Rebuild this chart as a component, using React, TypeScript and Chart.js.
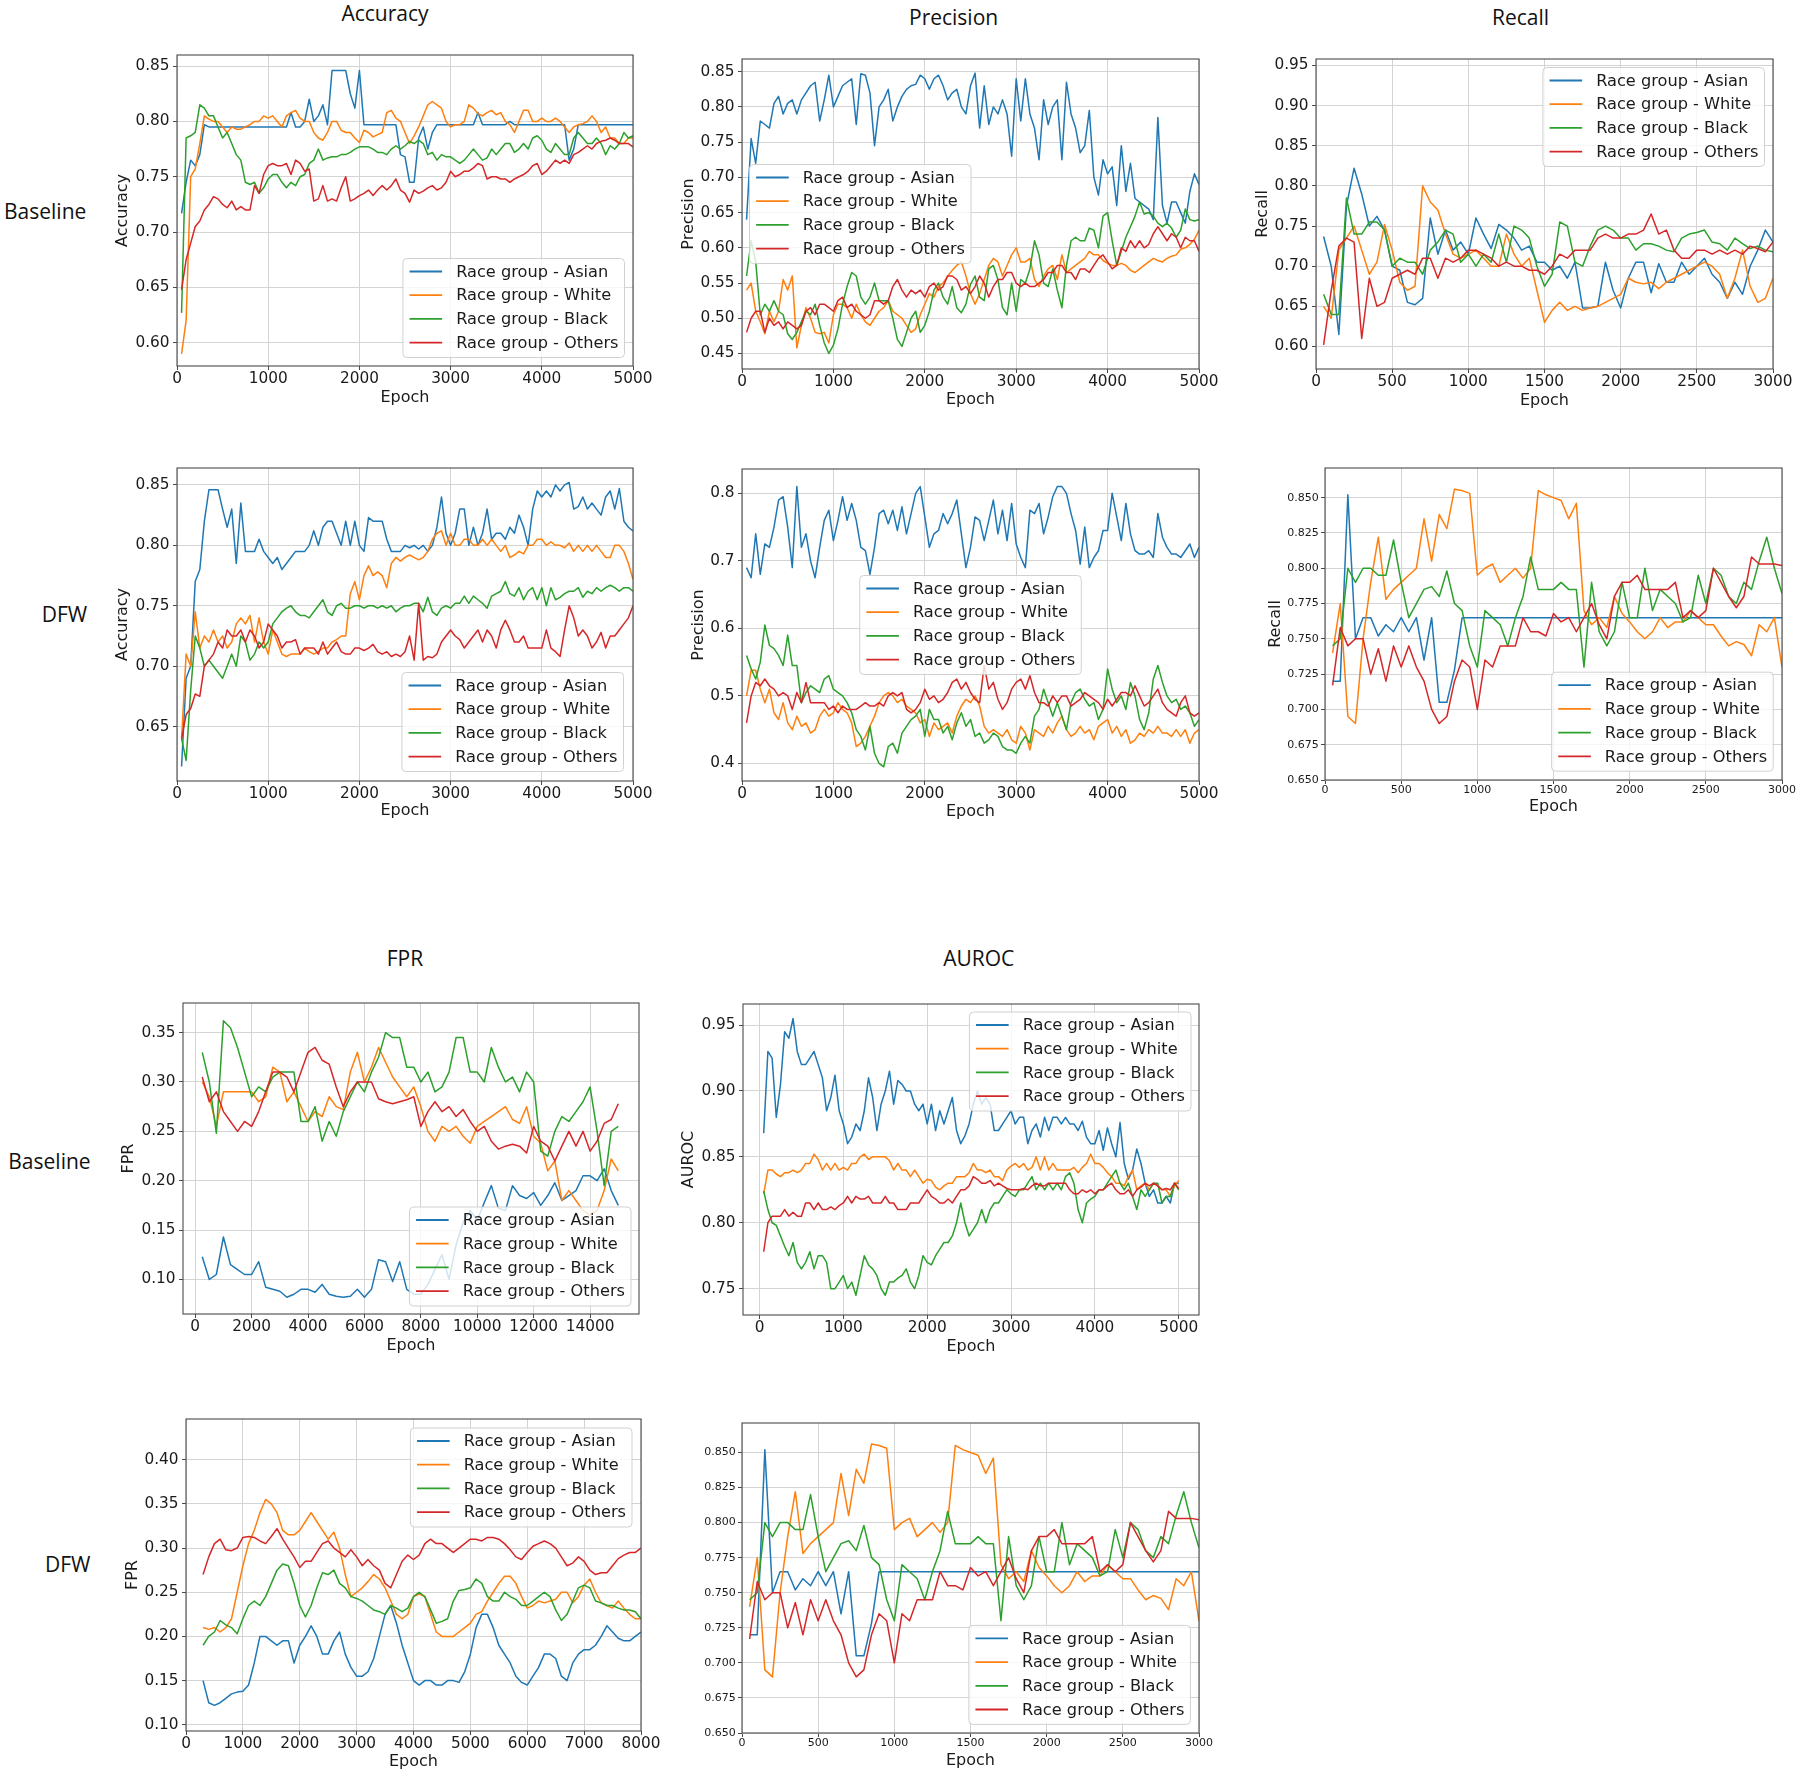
import React, { useEffect, useRef } from 'react';
import { Chart, registerables } from 'chart.js';

Chart.register(...registerables);

// ---------------- categories / series names ----------------
const SERIES_NAMES = ['Race group - Asian', 'Race group - White', 'Race group - Black', 'Race group - Others'];
const SERIES_COLORS = ['#1f77b4', '#ff7f0e', '#2ca02c', '#d62728'];
const COLUMN_TITLES = ['Accuracy', 'Precision', 'Recall', 'FPR', 'AUROC'];
const ROW_LABELS = ['Baseline', 'DFW', 'Baseline', 'DFW'];
const X_TITLE = 'Epoch';

// ---------------- tick values ----------------
const X_TICKS_5000 = [0, 1000, 2000, 3000, 4000, 5000];
const X_TICKS_3000 = [0, 500, 1000, 1500, 2000, 2500, 3000];
const X_TICKS_15000 = [0, 2000, 4000, 6000, 8000, 10000, 12000, 14000];
const X_TICKS_8000 = [0, 1000, 2000, 3000, 4000, 5000, 6000, 7000, 8000];
const Y_TICKS_ACC_BASE = [0.60, 0.65, 0.70, 0.75, 0.80, 0.85];
const Y_TICKS_PREC_BASE = [0.45, 0.50, 0.55, 0.60, 0.65, 0.70, 0.75, 0.80, 0.85];
const Y_TICKS_REC_BASE = [0.60, 0.65, 0.70, 0.75, 0.80, 0.85, 0.90, 0.95];
const Y_TICKS_ACC_DFW = [0.65, 0.70, 0.75, 0.80, 0.85];
const Y_TICKS_PREC_DFW = [0.4, 0.5, 0.6, 0.7, 0.8];
const Y_TICKS_REC_DFW = [0.650, 0.675, 0.700, 0.725, 0.750, 0.775, 0.800, 0.825, 0.850];
const Y_TICKS_FPR_BASE = [0.10, 0.15, 0.20, 0.25, 0.30, 0.35];
const Y_TICKS_AUROC_BASE = [0.75, 0.80, 0.85, 0.90, 0.95];
const Y_TICKS_FPR_DFW = [0.10, 0.15, 0.20, 0.25, 0.30, 0.35, 0.40];

// ---------------- epochs (x values) ----------------
const EPOCHS_5000 = [
  50, 100, 150, 200, 250, 300, 350, 400, 450, 500,
  550, 600, 650, 700, 750, 800, 850, 900, 950, 1000,
  1050, 1100, 1150, 1200, 1250, 1300, 1350, 1400, 1450, 1500,
  1550, 1600, 1650, 1700, 1750, 1800, 1850, 1900, 1950, 2000,
  2050, 2100, 2150, 2200, 2250, 2300, 2350, 2400, 2450, 2500,
  2550, 2600, 2650, 2700, 2750, 2800, 2850, 2900, 2950, 3000,
  3050, 3100, 3150, 3200, 3250, 3300, 3350, 3400, 3450, 3500,
  3550, 3600, 3650, 3700, 3750, 3800, 3850, 3900, 3950, 4000,
  4050, 4100, 4150, 4200, 4250, 4300, 4350, 4400, 4450, 4500,
  4550, 4600, 4650, 4700, 4750, 4800, 4850, 4900, 4950, 5000,
];
const EPOCHS_3000 = [
  50, 100, 150, 200, 250, 300, 350, 400, 450, 500,
  550, 600, 650, 700, 750, 800, 850, 900, 950, 1000,
  1050, 1100, 1150, 1200, 1250, 1300, 1350, 1400, 1450, 1500,
  1550, 1600, 1650, 1700, 1750, 1800, 1850, 1900, 1950, 2000,
  2050, 2100, 2150, 2200, 2250, 2300, 2350, 2400, 2450, 2500,
  2550, 2600, 2650, 2700, 2750, 2800, 2850, 2900, 2950, 3000,
];
const EPOCHS_FPR_BASE = [
  250, 500, 750, 1000, 1250, 1500, 1750, 2000, 2250, 2500,
  2750, 3000, 3250, 3500, 3750, 4000, 4250, 4500, 4750, 5000,
  5250, 5500, 5750, 6000, 6250, 6500, 6750, 7000, 7250, 7500,
  7750, 8000, 8250, 8500, 8750, 9000, 9250, 9500, 9750, 10000,
  10250, 10500, 10750, 11000, 11250, 11500, 11750, 12000, 12250, 12500,
  12750, 13000, 13250, 13500, 13750, 14000, 14250, 14500, 14750, 15000,
];
const EPOCHS_FPR_DFW = [
  300, 400, 500, 600, 700, 800, 900, 1000, 1100, 1200,
  1300, 1400, 1500, 1600, 1700, 1800, 1900, 2000, 2100, 2200,
  2300, 2400, 2500, 2600, 2700, 2800, 2900, 3000, 3100, 3200,
  3300, 3400, 3500, 3600, 3700, 3800, 3900, 4000, 4100, 4200,
  4300, 4400, 4500, 4600, 4700, 4800, 4900, 5000, 5100, 5200,
  5300, 5400, 5500, 5600, 5700, 5800, 5900, 6000, 6100, 6200,
  6300, 6400, 6500, 6600, 6700, 6800, 6900, 7000, 7100, 7200,
  7300, 7400, 7500, 7600, 7700, 7800, 7900, 8000,
];

// ---------------- Accuracy - Baseline ----------------
const ACC_BASE_ASIAN = [
  .717, .745, .765, .760, .770, .797, .795, .795, .795, .795,
  .795, .795, .795, .795, .795, .795, .795, .795, .795, .795,
  .795, .795, .795, .795, .808, .795, .795, .800, .820, .800,
  .805, .815, .797, .846, .846, .846, .846, .825, .812, .846,
  .797, .797, .797, .797, .797, .797, .797, .797, .770, .768,
  .745, .745, .785, .795, .775, .790, .797, .797, .797, .797,
  .797, .797, .797, .797, .797, .808, .797, .797, .797, .797,
  .797, .797, .800, .797, .797, .797, .797, .797, .797, .797,
  .797, .797, .797, .797, .797, .765, .775, .797, .797, .797,
  .797, .797, .797, .797, .797, .797, .797, .797, .797, .797,
];
const ACC_BASE_WHITE = [
  .590, .620, .750, .757, .780, .805, .802, .800, .800, .795,
  .790, .795, .793, .793, .795, .797, .800, .800, .805, .803,
  .805, .800, .795, .805, .808, .810, .803, .800, .800, .790,
  .785, .783, .790, .800, .800, .792, .790, .790, .785, .781,
  .792, .790, .786, .788, .790, .808, .810, .803, .800, .790,
  .780, .787, .795, .805, .815, .818, .815, .812, .800, .795,
  .797, .797, .800, .815, .812, .807, .805, .808, .810, .806,
  .808, .800, .797, .790, .800, .810, .810, .800, .800, .803,
  .800, .800, .803, .800, .795, .790, .795, .797, .798, .800,
  .805, .800, .790, .795, .785, .785, .780, .780, .785, .785,
];
const ACC_BASE_BLACK = [
  .627, .785, .787, .790, .815, .812, .805, .805, .795, .785,
  .790, .780, .770, .765, .745, .743, .745, .735, .740, .748,
  .752, .752, .745, .740, .745, .742, .750, .752, .762, .765,
  .775, .765, .767, .768, .768, .770, .770, .772, .775, .777,
  .777, .777, .775, .772, .772, .770, .775, .778, .775, .778,
  .782, .780, .783, .780, .770, .772, .765, .770, .768, .768,
  .765, .762, .765, .770, .775, .770, .765, .767, .775, .770,
  .775, .780, .780, .772, .775, .780, .775, .785, .787, .783,
  .775, .772, .780, .775, .770, .770, .785, .790, .785, .780,
  .780, .785, .780, .770, .778, .775, .780, .790, .785, .787,
];
const ACC_BASE_OTHERS = [
  .648, .675, .690, .705, .710, .720, .725, .732, .730, .725,
  .722, .728, .720, .723, .720, .720, .742, .735, .752, .760,
  .762, .760, .760, .762, .752, .765, .762, .755, .757, .728,
  .730, .742, .728, .730, .728, .740, .750, .728, .730, .733,
  .735, .738, .733, .738, .742, .738, .742, .748, .738, .735,
  .727, .738, .735, .737, .740, .742, .738, .740, .745, .755,
  .750, .752, .755, .755, .758, .762, .760, .748, .750, .750,
  .748, .748, .745, .748, .750, .752, .755, .760, .762, .752,
  .755, .760, .765, .762, .765, .762, .770, .772, .775, .778,
  .775, .780, .782, .783, .785, .783, .780, .780, .780, .777,
];

// ---------------- Precision - Baseline ----------------
const PREC_BASE_ASIAN = [
  .640, .755, .720, .780, .775, .770, .805, .815, .790, .805,
  .810, .790, .810, .820, .830, .835, .780, .810, .845, .800,
  .815, .830, .835, .840, .775, .847, .845, .820, .745, .800,
  .810, .825, .780, .800, .815, .825, .830, .832, .845, .840,
  .825, .840, .845, .830, .810, .820, .825, .800, .790, .830,
  .848, .770, .830, .775, .800, .790, .810, .790, .730, .840,
  .780, .840, .790, .770, .725, .810, .775, .800, .810, .725,
  .835, .790, .770, .735, .745, .795, .700, .675, .725, .705,
  .715, .660, .745, .680, .720, .670, .665, .660, .655, .640,
  .785, .660, .635, .665, .665, .650, .635, .680, .705, .690,
];
const PREC_BASE_WHITE = [
  .540, .550, .510, .495, .478, .510, .495, .510, .555, .540,
  .560, .458, .490, .515, .500, .480, .478, .480, .465, .505,
  .520, .520, .515, .500, .520, .505, .495, .490, .500, .510,
  .515, .525, .510, .505, .500, .490, .480, .485, .505, .520,
  .535, .530, .545, .550, .560, .568, .575, .580, .560, .535,
  .520, .535, .555, .575, .585, .580, .560, .575, .590, .600,
  .580, .580, .585, .555, .545, .560, .570, .575, .555, .590,
  .565, .570, .575, .580, .585, .595, .590, .590, .582, .578,
  .575, .575, .578, .575, .568, .565, .570, .575, .580, .585,
  .582, .580, .585, .588, .590, .598, .600, .605, .612, .625,
];
const PREC_BASE_BLACK = [
  .560, .610, .580, .505, .520, .510, .525, .510, .505, .478,
  .470, .480, .495, .510, .505, .520, .490, .465, .450, .462,
  .485, .520, .545, .565, .560, .530, .520, .530, .550, .525,
  .525, .525, .500, .470, .460, .480, .500, .510, .480, .490,
  .510, .540, .550, .530, .520, .545, .515, .508, .520, .548,
  .560, .530, .525, .570, .575, .555, .515, .505, .550, .510,
  .555, .550, .570, .610, .590, .550, .545, .570, .540, .515,
  .575, .610, .615, .610, .610, .628, .625, .600, .645, .650,
  .610, .575, .595, .615, .630, .645, .665, .648, .650, .645,
  .635, .630, .635, .628, .615, .625, .655, .640, .638, .640,
];
const PREC_BASE_OTHERS = [
  .480, .500, .510, .510, .480, .500, .490, .495, .485, .495,
  .490, .485, .490, .510, .515, .505, .520, .520, .515, .510,
  .525, .530, .515, .520, .510, .505, .500, .505, .525, .525,
  .520, .525, .545, .555, .540, .530, .540, .535, .540, .530,
  .545, .550, .540, .545, .560, .560, .555, .540, .545, .535,
  .545, .560, .550, .530, .545, .555, .555, .565, .565, .550,
  .545, .550, .545, .545, .550, .555, .565, .565, .575, .575,
  .565, .565, .555, .570, .570, .565, .575, .585, .590, .580,
  .570, .575, .600, .595, .610, .600, .610, .600, .605, .620,
  .630, .620, .610, .620, .615, .600, .615, .610, .610, .595,
];

// ---------------- Recall - Baseline ----------------
const REC_BASE_ASIAN = [
  .737, .700, .615, .775, .822, .790, .750, .762, .745, .700,
  .695, .655, .652, .660, .760, .715, .745, .720, .730, .715,
  .760, .740, .722, .752, .745, .735, .720, .725, .705, .705,
  .695, .700, .685, .705, .648, .648, .650, .705, .670, .648,
  .685, .705, .705, .667, .703, .680, .680, .705, .690, .700,
  .710, .690, .680, .660, .680, .665, .700, .720, .745, .730,
];
const REC_BASE_WHITE = [
  .650, .635, .720, .735, .750, .720, .690, .705, .752, .720,
  .680, .670, .675, .800, .780, .770, .740, .715, .710, .715,
  .720, .710, .700, .700, .740, .715, .700, .710, .670, .630,
  .645, .655, .645, .650, .645, .648, .650, .655, .660, .665,
  .685, .680, .678, .680, .672, .680, .685, .690, .695, .700,
  .705, .700, .690, .660, .685, .720, .675, .655, .660, .685,
];
const REC_BASE_BLACK = [
  .665, .640, .640, .785, .740, .740, .755, .755, .745, .700,
  .710, .705, .705, .690, .720, .730, .745, .740, .705, .715,
  .700, .715, .705, .740, .705, .750, .745, .735, .700, .675,
  .690, .755, .750, .705, .700, .725, .745, .750, .745, .735,
  .735, .720, .728, .728, .725, .720, .718, .735, .740, .742,
  .745, .730, .728, .720, .735, .728, .722, .725, .720, .718,
];
const REC_BASE_OTHERS = [
  .602, .670, .725, .735, .730, .610, .685, .650, .655, .685,
  .690, .695, .690, .710, .710, .685, .710, .705, .710, .720,
  .720, .715, .710, .700, .705, .700, .700, .695, .695, .690,
  .700, .715, .710, .720, .720, .720, .735, .740, .735, .735,
  .740, .740, .745, .765, .740, .745, .720, .710, .710, .720,
  .720, .715, .720, .715, .720, .715, .725, .722, .718, .730,
];

// ---------------- Accuracy - DFW ----------------
const ACC_DFW_ASIAN = [
  .617, .690, .700, .770, .780, .820, .846, .846, .846, .830,
  .815, .830, .785, .835, .795, .795, .795, .805, .795, .790,
  .785, .790, .780, .785, .790, .795, .795, .795, .800, .812,
  .800, .815, .820, .820, .810, .800, .820, .800, .820, .800,
  .795, .823, .820, .820, .820, .805, .795, .795, .795, .800,
  .798, .800, .797, .800, .795, .800, .815, .840, .810, .800,
  .810, .830, .830, .800, .815, .800, .810, .830, .805, .810,
  .810, .805, .815, .810, .825, .815, .800, .830, .845, .840,
  .845, .840, .850, .845, .850, .852, .830, .832, .840, .830,
  .835, .830, .825, .840, .845, .830, .847, .820, .815, .812,
];
const ACC_DFW_WHITE = [
  .640, .710, .700, .745, .715, .725, .720, .730, .720, .725,
  .715, .720, .735, .740, .735, .742, .720, .740, .720, .710,
  .730, .720, .710, .708, .710, .710, .710, .715, .712, .710,
  .712, .715, .715, .720, .722, .725, .725, .760, .770, .755,
  .775, .783, .775, .778, .775, .765, .785, .790, .787, .790,
  .792, .790, .788, .790, .795, .805, .810, .812, .800, .810,
  .800, .800, .805, .805, .800, .800, .805, .800, .805, .800,
  .795, .800, .790, .792, .795, .793, .800, .800, .805, .805,
  .800, .803, .800, .800, .798, .802, .795, .800, .795, .800,
  .795, .800, .795, .790, .790, .800, .800, .795, .785, .772,
];
const ACC_DFW_BLACK = [
  .640, .622, .680, .725, .715, .700, .705, .700, .695, .690,
  .700, .710, .700, .725, .720, .705, .710, .720, .715, .720,
  .735, .740, .745, .748, .750, .745, .742, .742, .740, .745,
  .750, .755, .745, .742, .750, .752, .748, .748, .750, .750,
  .748, .750, .750, .748, .750, .748, .750, .745, .748, .750,
  .750, .752, .752, .745, .757, .745, .742, .748, .750, .748,
  .752, .752, .758, .752, .758, .755, .752, .748, .758, .760,
  .762, .770, .760, .758, .765, .755, .762, .765, .755, .765,
  .750, .765, .755, .757, .760, .762, .762, .765, .757, .762,
  .760, .765, .762, .765, .767, .765, .762, .765, .765, .762,
];
const ACC_DFW_OTHERS = [
  .640, .660, .665, .677, .675, .700, .705, .710, .720, .715,
  .730, .725, .725, .730, .720, .730, .725, .715, .720, .735,
  .730, .725, .715, .720, .720, .722, .710, .715, .715, .715,
  .710, .720, .710, .715, .720, .712, .710, .710, .715, .715,
  .713, .715, .718, .712, .710, .712, .708, .710, .708, .712,
  .725, .705, .752, .705, .708, .707, .710, .720, .725, .730,
  .725, .722, .715, .720, .725, .730, .720, .730, .725, .715,
  .730, .738, .730, .720, .720, .725, .715, .715, .715, .715,
  .730, .715, .712, .708, .730, .750, .740, .725, .730, .725,
  .715, .720, .728, .715, .725, .725, .730, .735, .740, .750,
];

// ---------------- Precision - DFW ----------------
const PREC_DFW_ASIAN = [
  .690, .675, .740, .680, .725, .720, .750, .790, .795, .750,
  .690, .810, .720, .740, .700, .675, .720, .760, .775, .730,
  .760, .795, .760, .785, .760, .720, .715, .680, .720, .770,
  .775, .755, .775, .745, .780, .740, .770, .800, .810, .765,
  .720, .740, .745, .770, .755, .770, .790, .740, .690, .720,
  .765, .760, .730, .760, .790, .740, .775, .730, .785, .725,
  .705, .690, .775, .770, .785, .740, .765, .795, .810, .810,
  .800, .770, .745, .695, .750, .690, .705, .715, .745, .745,
  .800, .765, .730, .785, .740, .715, .710, .710, .715, .705,
  .770, .735, .720, .710, .710, .705, .715, .725, .705, .720,
];
const PREC_DFW_WHITE = [
  .500, .538, .538, .510, .490, .510, .475, .465, .490, .460,
  .450, .470, .455, .460, .445, .450, .470, .480, .470, .475,
  .490, .480, .475, .460, .425, .430, .440, .455, .470, .490,
  .500, .505, .500, .490, .495, .485, .480, .475, .460, .465,
  .440, .460, .450, .455, .460, .445, .470, .485, .495, .490,
  .500, .485, .455, .445, .450, .445, .440, .450, .435, .430,
  .455, .445, .420, .450, .445, .440, .455, .445, .460, .470,
  .450, .440, .445, .455, .445, .450, .435, .455, .460, .465,
  .445, .455, .440, .450, .430, .435, .445, .440, .450, .445,
  .455, .445, .445, .440, .450, .440, .450, .430, .445, .450,
];
const PREC_DFW_BLACK = [
  .560, .540, .525, .550, .605, .575, .570, .560, .545, .590,
  .545, .545, .490, .505, .515, .510, .505, .525, .530, .510,
  .505, .500, .490, .475, .450, .440, .420, .455, .415, .400,
  .395, .425, .430, .415, .445, .455, .465, .470, .480, .440,
  .480, .465, .465, .445, .455, .435, .460, .475, .455, .465,
  .440, .445, .430, .435, .445, .440, .425, .420, .420, .415,
  .430, .440, .430, .470, .480, .510, .490, .470, .490, .470,
  .450, .490, .505, .510, .495, .485, .490, .465, .480, .540,
  .510, .490, .500, .480, .520, .500, .465, .450, .475, .525,
  .545, .520, .500, .490, .495, .480, .485, .475, .455, .465,
];
const PREC_DFW_OTHERS = [
  .460, .500, .520, .515, .525, .515, .510, .500, .505, .500,
  .480, .505, .490, .520, .490, .490, .490, .490, .480, .485,
  .475, .485, .480, .480, .480, .485, .490, .485, .485, .490,
  .485, .500, .505, .500, .505, .480, .475, .480, .490, .510,
  .495, .500, .490, .495, .505, .520, .525, .510, .520, .505,
  .495, .490, .545, .510, .520, .495, .480, .490, .510, .520,
  .525, .510, .530, .505, .490, .490, .485, .500, .490, .500,
  .500, .485, .490, .495, .505, .500, .495, .490, .480, .495,
  .485, .495, .505, .505, .500, .515, .500, .485, .490, .500,
  .510, .490, .480, .475, .470, .490, .500, .475, .470, .475,
];

// ---------------- Recall - DFW (also shown in the AUROC - DFW panel) ----------------
const REC_DFW_ASIAN = [
  .720, .720, .852, .750, .765, .765, .752, .760, .755, .765,
  .755, .765, .735, .765, .705, .705, .728, .765, .765, .765,
  .765, .765, .765, .765, .765, .765, .765, .765, .765, .765,
  .765, .765, .765, .765, .765, .765, .765, .765, .765, .765,
  .765, .765, .765, .765, .765, .765, .765, .765, .765, .765,
  .765, .765, .765, .765, .765, .765, .765, .765, .765, .765,
];
const REC_DFW_WHITE = [
  .740, .775, .695, .690, .750, .790, .822, .778, .785, .790,
  .795, .800, .835, .805, .838, .828, .856, .855, .853, .795,
  .800, .803, .790, .795, .800, .793, .800, .855, .852, .850,
  .848, .835, .846, .770, .760, .765, .758, .780, .768, .762,
  .755, .750, .755, .765, .758, .762, .762, .770, .765, .760,
  .760, .752, .745, .748, .746, .738, .760, .755, .765, .730,
];
const REC_DFW_BLACK = [
  .745, .750, .800, .790, .800, .800, .795, .795, .820, .790,
  .765, .775, .785, .787, .780, .798, .775, .770, .745, .730,
  .770, .765, .760, .745, .765, .780, .808, .785, .785, .785,
  .790, .785, .785, .730, .790, .755, .745, .755, .790, .765,
  .765, .800, .770, .785, .780, .775, .762, .765, .795, .775,
  .800, .795, .780, .775, .790, .785, .805, .822, .800, .782,
];
const REC_DFW_OTHERS = [
  .717, .758, .745, .750, .750, .725, .743, .720, .745, .730,
  .745, .730, .720, .700, .690, .695, .720, .735, .730, .700,
  .735, .730, .745, .745, .745, .765, .755, .755, .752, .768,
  .762, .765, .755, .765, .775, .760, .750, .780, .790, .790,
  .795, .785, .785, .785, .785, .790, .765, .770, .765, .770,
  .800, .790, .780, .772, .780, .808, .803, .803, .803, .802,
];

// ---------------- FPR - Baseline ----------------
const FPR_BASE_ASIAN = [
  .123, .100, .105, .143, .115, .110, .105, .105, .118, .092,
  .090, .088, .082, .085, .090, .090, .087, .095, .085, .083,
  .082, .083, .090, .082, .090, .120, .118, .098, .118, .090,
  .085, .085, .095, .110, .125, .100, .135, .158, .170, .160,
  .178, .195, .172, .170, .195, .185, .182, .188, .175, .185,
  .198, .180, .185, .190, .205, .205, .200, .212, .190, .175,
];
const FPR_BASE_WHITE = [
  .300, .285, .255, .290, .290, .290, .290, .290, .280, .285,
  .315, .310, .280, .290, .275, .260, .270, .265, .285, .275,
  .272, .310, .330, .300, .315, .335, .320, .305, .295, .285,
  .295, .275, .250, .240, .255, .250, .255, .245, .238, .255,
  .260, .265, .270, .275, .262, .258, .275, .245, .238, .210,
  .220, .180, .190, .180, .170, .165, .170, .190, .222, .210,
];
const FPR_BASE_BLACK = [
  .330, .300, .248, .362, .355, .335, .310, .285, .295, .290,
  .305, .310, .310, .310, .260, .260, .275, .240, .260, .245,
  .270, .285, .300, .290, .310, .325, .350, .345, .345, .315,
  .315, .300, .310, .290, .295, .310, .345, .345, .310, .310,
  .300, .335, .315, .300, .305, .290, .310, .300, .230, .225,
  .250, .265, .260, .270, .280, .295, .250, .195, .250, .255,
];
const FPR_BASE_OTHERS = [
  .305, .280, .290, .270, .260, .250, .260, .255, .270, .290,
  .310, .310, .305, .290, .310, .330, .335, .322, .318, .295,
  .275, .290, .300, .300, .300, .283, .280, .278, .280, .282,
  .285, .255, .270, .280, .270, .275, .265, .272, .260, .250,
  .255, .240, .232, .235, .237, .235, .228, .255, .240, .235,
  .220, .235, .250, .235, .250, .230, .240, .258, .262, .278,
];

// ---------------- AUROC - Baseline ----------------
const AUROC_BASE_ASIAN = [
  .868, .930, .925, .880, .905, .945, .940, .955, .930, .920,
  .920, .925, .930, .920, .910, .885, .895, .912, .885, .875,
  .860, .865, .875, .870, .885, .910, .895, .870, .890, .900,
  .915, .890, .908, .905, .900, .900, .890, .885, .890, .875,
  .890, .870, .885, .875, .885, .895, .870, .860, .866, .875,
  .890, .900, .890, .895, .890, .870, .870, .875, .880, .885,
  .875, .880, .880, .860, .870, .875, .865, .880, .870, .880,
  .880, .875, .880, .875, .875, .870, .877, .865, .860, .860,
  .870, .855, .872, .860, .850, .876, .845, .833, .840, .856,
  .845, .830, .820, .825, .815, .815, .820, .815, .830, .830,
];
const AUROC_BASE_WHITE = [
  .822, .840, .840, .837, .835, .838, .838, .840, .838, .840,
  .845, .845, .852, .848, .840, .845, .840, .845, .840, .842,
  .840, .845, .845, .850, .852, .848, .850, .850, .850, .850,
  .847, .840, .845, .840, .840, .835, .840, .835, .830, .833,
  .832, .827, .825, .828, .830, .830, .835, .835, .835, .838,
  .845, .840, .840, .838, .840, .835, .835, .832, .840, .843,
  .845, .842, .845, .840, .842, .850, .840, .850, .840, .845,
  .840, .840, .840, .840, .842, .838, .842, .845, .852, .845,
  .845, .842, .838, .835, .830, .830, .828, .835, .840, .825,
  .828, .830, .825, .830, .828, .825, .825, .820, .828, .832,
];
const AUROC_BASE_BLACK = [
  .824, .810, .800, .798, .790, .782, .775, .785, .770, .765,
  .770, .778, .765, .775, .775, .770, .750, .750, .755, .760,
  .750, .755, .745, .760, .775, .768, .765, .760, .750, .745,
  .755, .755, .758, .760, .765, .755, .750, .760, .775, .770,
  .768, .775, .780, .785, .785, .790, .800, .815, .800, .790,
  .795, .800, .810, .800, .810, .815, .815, .820, .825, .822,
  .820, .825, .825, .830, .835, .825, .830, .825, .830, .825,
  .830, .825, .835, .838, .830, .810, .800, .815, .818, .820,
  .825, .825, .830, .835, .840, .830, .825, .830, .820, .810,
  .825, .820, .825, .830, .830, .815, .820, .820, .830, .825,
];
const AUROC_BASE_OTHERS = [
  .778, .800, .805, .805, .805, .810, .805, .808, .805, .805,
  .815, .815, .810, .815, .810, .810, .812, .810, .813, .815,
  .820, .815, .820, .818, .818, .820, .815, .815, .815, .820,
  .815, .815, .810, .810, .810, .815, .815, .815, .820, .825,
  .820, .818, .815, .815, .818, .815, .820, .825, .825, .828,
  .835, .833, .830, .830, .832, .828, .830, .828, .826, .825,
  .825, .825, .826, .825, .828, .830, .828, .828, .830, .830,
  .830, .830, .830, .825, .822, .822, .825, .823, .825, .822,
  .825, .825, .828, .830, .825, .822, .822, .825, .820, .825,
  .827, .830, .828, .830, .828, .825, .826, .825, .830, .826,
];

// ---------------- FPR - DFW ----------------
const FPR_DFW_ASIAN = [
  .150, .125, .122, .125, .130, .135, .137, .138, .145, .170,
  .200, .200, .195, .190, .195, .195, .170, .190, .200, .212,
  .200, .180, .180, .195, .205, .180, .165, .155, .155, .160,
  .175, .200, .225, .235, .215, .190, .170, .150, .145, .150,
  .150, .145, .145, .150, .150, .148, .160, .180, .210, .225,
  .225, .210, .190, .180, .170, .155, .148, .145, .155, .165,
  .180, .180, .175, .155, .150, .170, .180, .185, .185, .190,
  .200, .212, .205, .198, .195, .195, .200, .205,
];
const FPR_DFW_WHITE = [
  .210, .208, .210, .205, .210, .220, .250, .280, .305, .320,
  .340, .355, .350, .340, .320, .315, .315, .320, .330, .340,
  .330, .320, .310, .318, .300, .270, .245, .250, .255, .262,
  .270, .265, .255, .240, .225, .220, .225, .245, .248, .245,
  .225, .205, .200, .200, .200, .205, .210, .215, .225, .228,
  .240, .250, .260, .268, .268, .260, .245, .232, .235, .240,
  .238, .240, .242, .250, .250, .238, .245, .258, .265, .250,
  .238, .235, .232, .240, .232, .225, .220, .220,
];
const FPR_DFW_BLACK = [
  .190, .200, .205, .218, .213, .210, .203, .220, .235, .240,
  .235, .245, .260, .275, .282, .280, .260, .235, .222, .235,
  .255, .272, .270, .275, .260, .255, .245, .243, .240, .235,
  .230, .228, .225, .235, .232, .228, .232, .245, .250, .245,
  .230, .215, .217, .220, .240, .252, .253, .255, .265, .260,
  .245, .240, .240, .250, .245, .242, .235, .235, .240, .245,
  .250, .245, .230, .218, .225, .240, .255, .258, .255, .240,
  .238, .235, .235, .232, .230, .230, .228, .220,
];
const FPR_DFW_OTHERS = [
  .270, .290, .305, .310, .298, .297, .300, .312, .313, .312,
  .308, .305, .313, .322, .310, .300, .290, .278, .285, .285,
  .295, .305, .308, .300, .295, .290, .298, .290, .280, .287,
  .280, .275, .260, .255, .270, .285, .292, .287, .292, .305,
  .310, .305, .305, .300, .295, .300, .305, .310, .310, .308,
  .312, .312, .310, .305, .298, .290, .287, .295, .302, .305,
  .308, .305, .300, .290, .280, .283, .290, .285, .275, .270,
  .272, .272, .280, .288, .292, .295, .295, .300,
];

// ---------------- styling / layout ----------------
const FONT_FAMILY = '"DejaVu Sans", sans-serif';
const TEXT_COLOR = '#1a1a1a';
const GRID_COLOR = '#d4d4d4';
const SPINE_COLOR = '#4a4a4a';
const AXIS_TITLE_FONT = 16;
const LEGEND_FONT = 16.2;
const WY = 80; // y axis box width
const PT = 14; // padding above plot
const PR = 30; // padding right of plot
const HX = 50; // x axis box height

type LegendLoc = 'lower right' | 'upper right' | 'center left' | 'center';

interface PanelSpec {
  key: string;
  box: number[]; // plot area: left, top, right, bottom (page px)
  epochs: number[];
  series: number[][];
  xMin: number; xMax: number; xTicks: number[];
  yMin: number; yMax: number; yTicks: number[]; yDecimals: number;
  yTitle: string | null;
  yTitleOffset: number;
  xTitleBelow: number;
  tickFont: number;
  xTickPad: number;
  yTickPad: number;
  legendLoc: LegendLoc;
  legendMargin: number;
}

const PANELS: PanelSpec[] = [
  { key: 'acc-base', box: [177, 55, 633, 366], epochs: EPOCHS_5000,
    series: [ACC_BASE_ASIAN, ACC_BASE_WHITE, ACC_BASE_BLACK, ACC_BASE_OTHERS],
    xMin: 0, xMax: 5000, xTicks: X_TICKS_5000, yMin: 0.579, yMax: 0.860, yTicks: Y_TICKS_ACC_BASE, yDecimals: 2,
    yTitle: 'Accuracy', yTitleOffset: 54.5, xTitleBelow: 31.6, tickFont: 15.3, xTickPad: 0, yTickPad: 3.5, legendLoc: 'lower right', legendMargin: 8.5 },
  { key: 'prec-base', box: [742, 59, 1199, 369], epochs: EPOCHS_5000,
    series: [PREC_BASE_ASIAN, PREC_BASE_WHITE, PREC_BASE_BLACK, PREC_BASE_OTHERS],
    xMin: 0, xMax: 5000, xTicks: X_TICKS_5000, yMin: 0.428, yMax: 0.868, yTicks: Y_TICKS_PREC_BASE, yDecimals: 2,
    yTitle: 'Precision', yTitleOffset: 53.3, xTitleBelow: 31, tickFont: 15.3, xTickPad: 0, yTickPad: 3.5, legendLoc: 'center left', legendMargin: 7.5 },
  { key: 'rec-base', box: [1316, 59, 1773, 369], epochs: EPOCHS_3000,
    series: [REC_BASE_ASIAN, REC_BASE_WHITE, REC_BASE_BLACK, REC_BASE_OTHERS],
    xMin: 0, xMax: 3000, xTicks: X_TICKS_3000, yMin: 0.572, yMax: 0.958, yTicks: Y_TICKS_REC_BASE, yDecimals: 2,
    yTitle: 'Recall', yTitleOffset: 53.4, xTitleBelow: 31.7, tickFont: 15.3, xTickPad: 0, yTickPad: 3.5, legendLoc: 'upper right', legendMargin: 8.5 },
  { key: 'acc-dfw', box: [177, 468, 633, 781], epochs: EPOCHS_5000,
    series: [ACC_DFW_ASIAN, ACC_DFW_WHITE, ACC_DFW_BLACK, ACC_DFW_OTHERS],
    xMin: 0, xMax: 5000, xTicks: X_TICKS_5000, yMin: 0.605, yMax: 0.864, yTicks: Y_TICKS_ACC_DFW, yDecimals: 2,
    yTitle: 'Accuracy', yTitleOffset: 54.2, xTitleBelow: 30, tickFont: 15.3, xTickPad: 0, yTickPad: 3.5, legendLoc: 'lower right', legendMargin: 9.5 },
  { key: 'prec-dfw', box: [742, 469, 1199, 781], epochs: EPOCHS_5000,
    series: [PREC_DFW_ASIAN, PREC_DFW_WHITE, PREC_DFW_BLACK, PREC_DFW_OTHERS],
    xMin: 0, xMax: 5000, xTicks: X_TICKS_5000, yMin: 0.374, yMax: 0.836, yTicks: Y_TICKS_PREC_DFW, yDecimals: 1,
    yTitle: 'Precision', yTitleOffset: 43.3, xTitleBelow: 31.3, tickFont: 15.3, xTickPad: 0, yTickPad: 3.5, legendLoc: 'center', legendMargin: 8 },
  { key: 'rec-dfw', box: [1325, 468, 1782, 780], epochs: EPOCHS_3000,
    series: [REC_DFW_ASIAN, REC_DFW_WHITE, REC_DFW_BLACK, REC_DFW_OTHERS],
    xMin: 0, xMax: 3000, xTicks: X_TICKS_3000, yMin: 0.650, yMax: 0.871, yTicks: Y_TICKS_REC_DFW, yDecimals: 3,
    yTitle: 'Recall', yTitleOffset: 49.6, xTitleBelow: 26.7, tickFont: 11, xTickPad: 0, yTickPad: 2.3, legendLoc: 'lower right', legendMargin: 8.8 },
  { key: 'fpr-base', box: [183, 1003, 639, 1314], epochs: EPOCHS_FPR_BASE,
    series: [FPR_BASE_ASIAN, FPR_BASE_WHITE, FPR_BASE_BLACK, FPR_BASE_OTHERS],
    xMin: -433, xMax: 15735, xTicks: X_TICKS_15000, yMin: 0.065, yMax: 0.380, yTicks: Y_TICKS_FPR_BASE, yDecimals: 2,
    yTitle: 'FPR', yTitleOffset: 53.7, xTitleBelow: 31.7, tickFont: 15.3, xTickPad: 0, yTickPad: 3.5, legendLoc: 'lower right', legendMargin: 8 },
  { key: 'auroc-base', box: [743, 1004, 1199, 1315], epochs: EPOCHS_5000,
    series: [AUROC_BASE_ASIAN, AUROC_BASE_WHITE, AUROC_BASE_BLACK, AUROC_BASE_OTHERS],
    xMin: -197, xMax: 5242, xTicks: X_TICKS_5000, yMin: 0.730, yMax: 0.966, yTicks: Y_TICKS_AUROC_BASE, yDecimals: 2,
    yTitle: 'AUROC', yTitleOffset: 54, xTitleBelow: 32.3, tickFont: 15.3, xTickPad: 0, yTickPad: 3.5, legendLoc: 'upper right', legendMargin: 8 },
  { key: 'fpr-dfw', box: [186, 1419, 641, 1731], epochs: EPOCHS_FPR_DFW,
    series: [FPR_DFW_ASIAN, FPR_DFW_WHITE, FPR_DFW_BLACK, FPR_DFW_OTHERS],
    xMin: 0, xMax: 8000, xTicks: X_TICKS_8000, yMin: 0.093, yMax: 0.446, yTicks: Y_TICKS_FPR_DFW, yDecimals: 2,
    yTitle: 'FPR', yTitleOffset: 53.6, xTitleBelow: 31, tickFont: 15.3, xTickPad: 0, yTickPad: 3.5, legendLoc: 'upper right', legendMargin: 9 },
  { key: 'auroc-dfw', box: [742, 1423, 1199, 1733], epochs: EPOCHS_3000,
    series: [REC_DFW_ASIAN, REC_DFW_WHITE, REC_DFW_BLACK, REC_DFW_OTHERS],
    xMin: 0, xMax: 3000, xTicks: X_TICKS_3000, yMin: 0.650, yMax: 0.871, yTicks: Y_TICKS_REC_DFW, yDecimals: 3,
    yTitle: null, yTitleOffset: 0, xTitleBelow: 27.4, tickFont: 11, xTickPad: 0, yTickPad: 2.3, legendLoc: 'lower right', legendMargin: 8.6 },
];

const HEADINGS = [
  { text: COLUMN_TITLES[0], cx: 385, baseline: 21.7, align: 'center' },
  { text: COLUMN_TITLES[1], cx: 953.6, baseline: 26, align: 'center' },
  { text: COLUMN_TITLES[2], cx: 1520.5, baseline: 26, align: 'center' },
  { text: COLUMN_TITLES[3], cx: 405, baseline: 967, align: 'center' },
  { text: COLUMN_TITLES[4], cx: 978.7, baseline: 967, align: 'center' },
  { text: ROW_LABELS[0], cx: 4, baseline: 220, align: 'left' },
  { text: ROW_LABELS[1], cx: 41.7, baseline: 622.7, align: 'left' },
  { text: ROW_LABELS[2], cx: 8.3, baseline: 1170, align: 'left' },
  { text: ROW_LABELS[3], cx: 45, baseline: 1572.7, align: 'left' },
];

const framePlugin = {
  id: 'mplFrame',
  afterDatasetsDraw(chart: any) {
    const { ctx, chartArea } = chart;
    ctx.save();
    ctx.strokeStyle = SPINE_COLOR;
    ctx.lineWidth = 1.1;
    ctx.strokeRect(chartArea.left, chartArea.top, chartArea.right - chartArea.left, chartArea.bottom - chartArea.top);
    ctx.restore();
  },
};

function makeLegendPlugin(loc: LegendLoc, m: number) {
  return {
    id: 'mplLegend',
    afterDraw(chart: any) {
      const { ctx, chartArea } = chart;
      const { left, top, right, bottom } = chartArea;
      ctx.save();
      ctx.font = `${LEGEND_FONT}px ${FONT_FAMILY}`;
      let tw = 0;
      SERIES_NAMES.forEach((l) => { tw = Math.max(tw, ctx.measureText(l).width); });
      const padL = 6.6, handle = 32.6, gap = 14, padR = 6;
      const w = padL + handle + gap + tw + padR;
      const h = 99, rowH = 23.7;
      let x = right - m - w;
      let y = bottom - m - h;
      if (loc === 'upper right') { y = top + m; }
      else if (loc === 'center left') { x = left + m; y = (top + bottom) / 2 - h / 2; }
      else if (loc === 'center') { x = (left + right) / 2 - w / 2; y = (top + bottom) / 2 - h / 2; }
      const r = 4;
      ctx.beginPath();
      ctx.moveTo(x + r, y);
      ctx.lineTo(x + w - r, y);
      ctx.quadraticCurveTo(x + w, y, x + w, y + r);
      ctx.lineTo(x + w, y + h - r);
      ctx.quadraticCurveTo(x + w, y + h, x + w - r, y + h);
      ctx.lineTo(x + r, y + h);
      ctx.quadraticCurveTo(x, y + h, x, y + h - r);
      ctx.lineTo(x, y + r);
      ctx.quadraticCurveTo(x, y, x + r, y);
      ctx.closePath();
      ctx.fillStyle = 'rgba(255,255,255,0.8)';
      ctx.fill();
      ctx.strokeStyle = 'rgba(204,204,204,0.9)';
      ctx.lineWidth = 1;
      ctx.stroke();
      ctx.textAlign = 'left';
      ctx.textBaseline = 'middle';
      SERIES_NAMES.forEach((label, i) => {
        const cy = y + 13 + i * rowH;
        ctx.strokeStyle = SERIES_COLORS[i];
        ctx.lineWidth = 1.8;
        ctx.beginPath();
        ctx.moveTo(x + padL, cy);
        ctx.lineTo(x + padL + handle, cy);
        ctx.stroke();
        ctx.fillStyle = TEXT_COLOR;
        ctx.fillText(label, x + padL + handle + gap, cy + 1);
      });
      ctx.restore();
    },
  };
}

function Panel({ spec }: { spec: PanelSpec }) {
  const ref = useRef<HTMLCanvasElement | null>(null);
  const [L, T, R, B] = spec.box;
  const left = L - WY;
  const top = T - PT;
  const width = R - L + WY + PR;
  const height = B - T + PT + HX;

  useEffect(() => {
    if (!ref.current) return;
    const lh = AXIS_TITLE_FONT * 1.2;
    const chart = new Chart(ref.current, {
      type: 'line',
      data: {
        labels: spec.epochs,
        datasets: spec.series.map((values, i) => ({
          label: SERIES_NAMES[i],
          data: values,
          borderColor: SERIES_COLORS[i],
          backgroundColor: SERIES_COLORS[i],
          borderWidth: 1.5,
          borderJoinStyle: 'round',
          pointRadius: 0,
          pointHoverRadius: 0,
          tension: 0,
          fill: false,
          order: 3 - i,
        })),
      },
      options: {
        animation: false,
        responsive: false,
        maintainAspectRatio: false,
        events: [],
        layout: { padding: { top: PT, right: PR, bottom: 0, left: 0 } },
        plugins: {
          legend: { display: false },
          tooltip: { enabled: false },
          title: { display: false },
        },
        scales: {
          x: {
            type: 'linear',
            min: spec.xMin,
            max: spec.xMax,
            afterFit: (s: any) => { s.height = HX; },
            afterBuildTicks: (s: any) => { s.ticks = spec.xTicks.map((v) => ({ value: v })); },
            ticks: {
              autoSkip: false,
              maxRotation: 0,
              minRotation: 0,
              padding: spec.xTickPad,
              color: TEXT_COLOR,
              font: { size: spec.tickFont, family: FONT_FAMILY },
              callback: (v: any) => String(Math.round(Number(v))),
            },
            grid: { color: GRID_COLOR, lineWidth: 1, drawTicks: true, tickLength: 4, tickColor: SPINE_COLOR, tickWidth: 1 },
            border: { display: false },
            title: {
              display: true,
              text: X_TITLE,
              color: TEXT_COLOR,
              font: { size: AXIS_TITLE_FONT, family: FONT_FAMILY },
              padding: { top: 0, bottom: HX - spec.xTitleBelow - lh / 2 },
            },
          },
          y: {
            type: 'linear',
            min: spec.yMin,
            max: spec.yMax,
            afterFit: (s: any) => { s.width = WY; },
            afterBuildTicks: (s: any) => { s.ticks = spec.yTicks.map((v) => ({ value: v })); },
            ticks: {
              autoSkip: false,
              padding: spec.yTickPad,
              color: TEXT_COLOR,
              font: { size: spec.tickFont, family: FONT_FAMILY },
              callback: (v: any) => Number(v).toFixed(spec.yDecimals),
            },
            grid: { color: GRID_COLOR, lineWidth: 1, drawTicks: true, tickLength: 4, tickColor: SPINE_COLOR, tickWidth: 1 },
            border: { display: false },
            title: {
              display: spec.yTitle !== null,
              text: spec.yTitle || '',
              color: TEXT_COLOR,
              font: { size: AXIS_TITLE_FONT, family: FONT_FAMILY },
              padding: { top: WY - spec.yTitleOffset - lh / 2, bottom: 0 },
            },
          },
        },
      },
      plugins: [framePlugin, makeLegendPlugin(spec.legendLoc, spec.legendMargin)],
    } as any);
    return () => chart.destroy();
  }, [spec]);

  return (
    <canvas
      ref={ref}
      width={width}
      height={height}
      style={{ position: 'absolute', left, top, width, height }}
    />
  );
}

export default function App() {
  return (
    <div style={{ position: 'absolute', left: 0, top: 0, width: 1805, height: 1779, background: '#ffffff', overflow: 'hidden' }}>
      {HEADINGS.map((h, i) => (
        <div
          key={i}
          style={{
            position: 'absolute',
            left: h.cx,
            top: h.baseline - 18.65,
            transform: h.align === 'center' ? 'translateX(-50%)' : undefined,
            fontFamily: '"Open Sans", sans-serif',
            fontSize: 21,
            lineHeight: '21px',
            color: '#111111',
            whiteSpace: 'nowrap',
          }}
        >
          {h.text}
        </div>
      ))}
      {PANELS.map((p) => (
        <Panel key={p.key} spec={p} />
      ))}
    </div>
  );
}
